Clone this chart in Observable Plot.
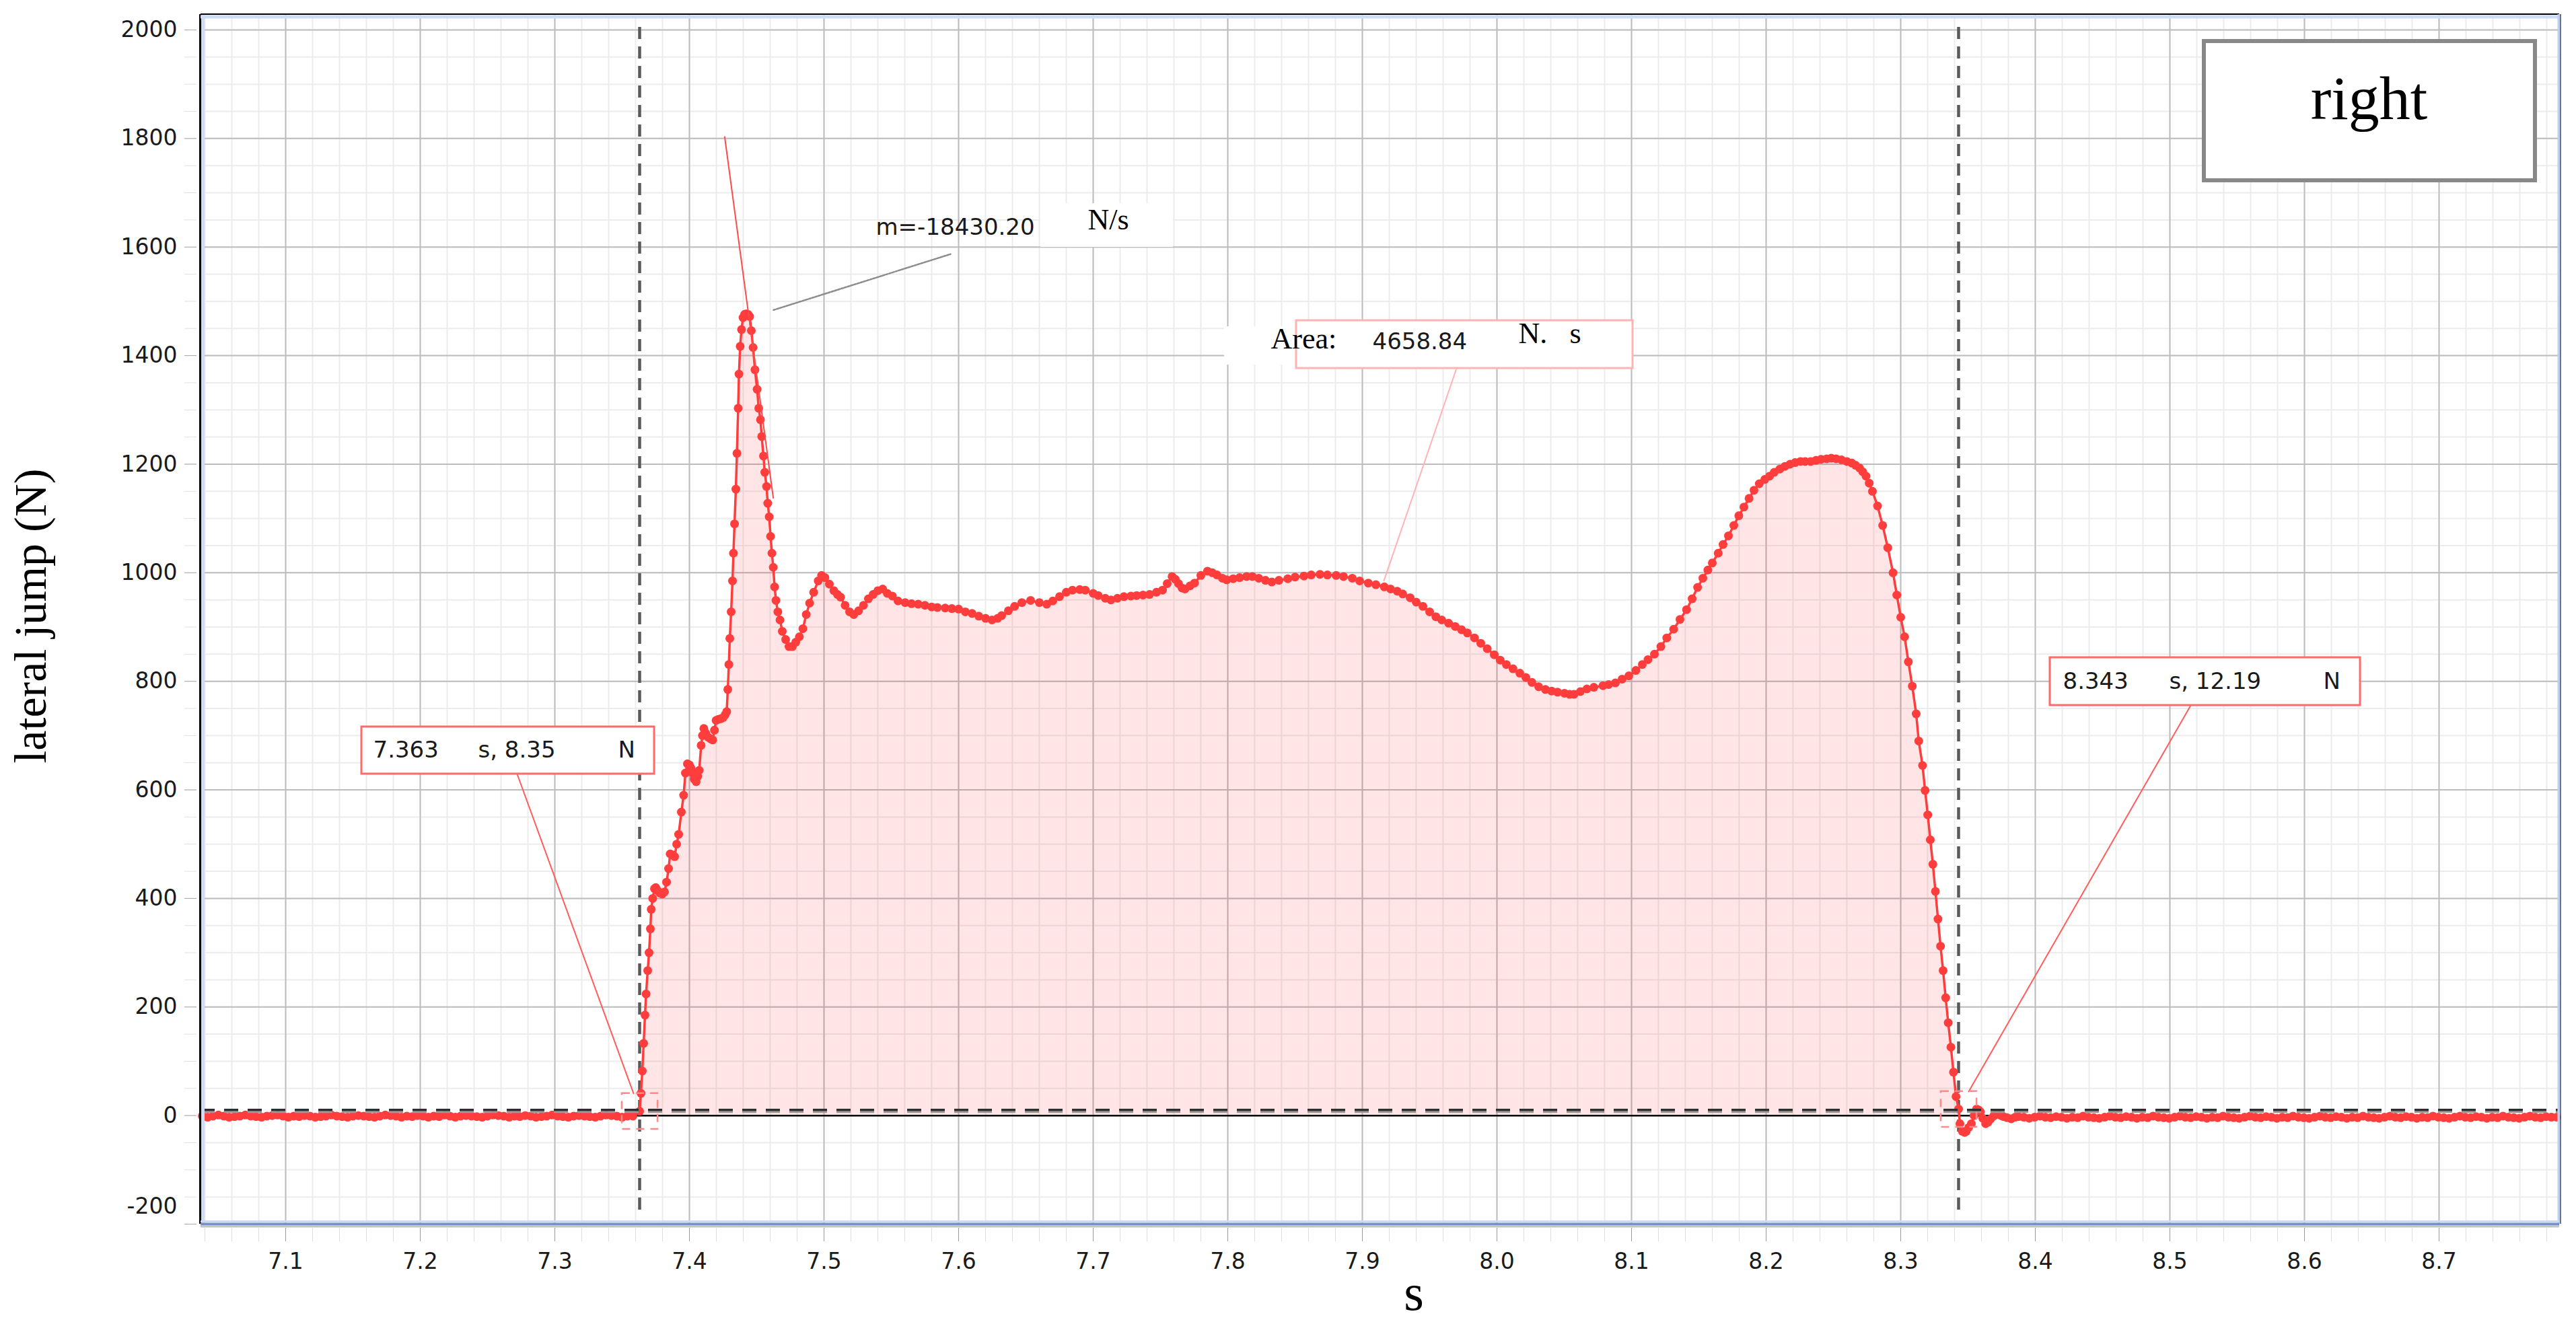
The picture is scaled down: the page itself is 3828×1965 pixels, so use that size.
<!DOCTYPE html>
<html>
<head>
<meta charset="utf-8">
<script src="https://cdn.jsdelivr.net/npm/d3@7"></script>
<script src="https://cdn.jsdelivr.net/npm/@observablehq/plot@0.6"></script>
<style>
  html, body { margin: 0; padding: 0; background: #ffffff; }
  #chart svg { display: block; }
</style>
</head>
<body>
<div id="chart"></div>
<script>
// ---------------- DATA ----------------
const xDomain = [7.037, 8.7895];
const yDomain = [-200, 2028.5];
const xTickValues = [7.1, 7.2, 7.3, 7.4, 7.5, 7.6, 7.7, 7.8, 7.9, 8.0, 8.1, 8.2, 8.3, 8.4, 8.5, 8.6, 8.7];
const yTickValues = [-200, 0, 200, 400, 600, 800, 1000, 1200, 1400, 1600, 1800, 2000];

// quiet stance before take-off (sampled every 4 ms)
const preStart = 7.038, preStep = 0.004;
const preForce = [-1,-3,-1,1,-1,-3,-2,-1,1,-1,-2,-3,-1,0,1,-1,-3,-1,-2,0,
                  -1,-3,-2,-1,1,-1,-2,-3,-1,0,-1,-2,-3,-1,1,0,-1,-3,-1,-2,
                  0,-1,-3,-1,-2,1,-1,-3,-1,0,-1,-2,-3,-1,1,0,-1,-3,-1,-2,
                  0,-1,-3,-2,-1,1,-1,-2,-3,-1,0,-1,-2,-3,-1,1,0,-1,-3,-1,-1];

// contact phase
const activeTime = [
  7.3630,7.3640,7.3650,7.3660,7.3670,7.3678,7.3690,7.3700,7.3710,7.3716,
  7.3727,7.3740,7.3750,7.3765,7.3780,7.3798,7.3815,7.3830,7.3845,7.3857,
  7.3875,7.3890,7.3905,7.3920,7.3940,7.3957,7.3970,7.3985,7.4000,7.4012,
  7.4023,7.4035,7.4050,7.4062,7.4073,7.4087,7.4097,7.4107,7.4120,7.4140,
  7.4157,7.4173,7.4186,7.4198,7.4215,7.4233,7.4250,7.4265,7.4277,7.4285,
  7.4293,7.4300,7.4310,7.4320,7.4327,7.4335,7.4345,7.4353,7.4362,7.4368,
  7.4377,7.4387,7.4398,7.4410,7.4423,7.4436,7.4448,7.4460,7.4473,7.4487,
  7.4503,7.4515,7.4528,7.4537,7.4550,7.4560,7.4573,7.4582,7.4593,7.4603,
  7.4613,7.4623,7.4633,7.4643,7.4657,7.4673,7.4690,7.4715,7.4740,7.4765,
  7.4790,7.4817,7.4843,7.4868,7.4893,7.4923,7.4957,7.4982,7.5007,7.5040,
  7.5073,7.5100,7.5123,7.5157,7.5190,7.5221,7.5257,7.5293,7.5330,7.5365,
  7.5400,7.5436,7.5470,7.5508,7.5550,7.5603,7.5650,7.5700,7.5750,7.5800,
  7.5842,7.5900,7.5950,7.6000,7.6050,7.6100,7.6150,7.6200,7.6248,7.6290,
  7.6320,7.6370,7.6416,7.6470,7.6535,7.6600,7.6655,7.6700,7.6750,7.6800,
  7.6846,7.6900,7.6941,7.7000,7.7037,7.7090,7.7132,7.7180,7.7228,7.7280,
  7.7323,7.7370,7.7419,7.7470,7.7515,7.7550,7.7586,7.7610,7.7634,7.7660,
  7.7682,7.7720,7.7753,7.7800,7.7849,7.7885,7.7920,7.7960,7.7992,7.8040,
  7.8088,7.8140,7.8183,7.8230,7.8280,7.8327,7.8380,7.8446,7.8500,7.8566,
  7.8620,7.8685,7.8740,7.8805,7.8860,7.8925,7.8980,7.9044,7.9100,7.9163,
  7.9210,7.9259,7.9300,7.9355,7.9400,7.9450,7.9500,7.9546,7.9590,7.9641,
  7.9690,7.9737,7.9780,7.9833,7.9880,7.9928,7.9980,8.0024,8.0070,8.0119,
  8.0170,8.0215,8.0260,8.0310,8.0360,8.0406,8.0450,8.0501,8.0540,8.0573,
  8.0620,8.0668,8.0720,8.0788,8.0830,8.0880,8.0930,8.0980,8.1032,8.1080,
  8.1122,8.1170,8.1218,8.1262,8.1313,8.1360,8.1409,8.1450,8.1491,8.1530,
  8.1567,8.1600,8.1644,8.1680,8.1720,8.1760,8.1797,8.1835,8.1873,8.1910,
  8.1949,8.1990,8.2026,8.2060,8.2102,8.2140,8.2178,8.2215,8.2255,8.2290,
  8.2331,8.2370,8.2408,8.2450,8.2484,8.2520,8.2560,8.2600,8.2637,8.2665,
  8.2694,8.2718,8.2742,8.2766,8.2790,8.2828,8.2866,8.2904,8.2943,8.2971,
  8.3000,8.3029,8.3057,8.3086,8.3115,8.3134,8.3162,8.3181,8.3201,8.3220,
  8.3239,8.3258,8.3277,8.3296,8.3315,8.3334,8.3353,8.3373,8.3392,8.3411,
  8.3430,8.3440,8.3458,8.3475,8.3487,8.3505,8.3525,8.3545,8.3564,8.3580,
  8.3592,8.3610,8.3631,8.3650,8.3669,8.3690,8.3710,8.3726,8.3745,8.3764,
  8.3790,8.3821,8.3850,8.3875
];
const activeForce = [
  8,41,82,133,185,224,267,300,344,380,
  400,418,420,414,410,408,412,430,455,482,
  480,477,500,518,559,590,631,648,646,640,
  631,620,615,625,636,682,700,713,705,697,
  694,692,710,728,730,731,733,738,744,785,
  831,879,928,985,1036,1090,1154,1220,1303,1366,
  1417,1448,1470,1476,1477,1476,1472,1446,1415,1374,
  1338,1303,1282,1251,1215,1185,1159,1128,1103,1067,
  1036,1010,974,949,928,913,892,877,864,864,
  872,882,897,923,944,964,985,995,991,979,
  967,960,955,940,928,923,930,940,952,960,
  967,970,962,957,948,945,943,942,940,937,
  936,935,934,933,928,925,920,916,913,916,
  921,930,938,945,949,945,942,948,956,964,
  968,969,968,962,958,953,950,953,956,957,
  958,959,960,964,968,980,993,988,980,972,
  970,976,981,995,1003,1000,996,990,987,989,
  991,993,993,990,986,983,986,989,992,994,
  996,997,996,995,993,990,985,981,978,974,
  970,966,961,954,946,938,928,919,913,907,
  901,895,889,880,870,860,849,839,831,823,
  815,807,798,790,785,782,780,778,776,776,
  781,786,789,792,794,797,804,810,820,831,
  840,850,864,880,896,914,932,952,973,990,
  1005,1018,1036,1052,1068,1087,1105,1121,1137,1152,
  1164,1172,1178,1185,1191,1196,1200,1203,1205,1205,
  1205,1207,1209,1210,1211,1210,1208,1205,1202,1198,
  1193,1186,1178,1165,1150,1123,1087,1046,1000,959,
  918,882,836,791,740,690,645,599,554,508,
  463,413,362,312,267,217,171,126,80,35,
  12,-15,-29,-31,-29,-22,-15,0,12,10,
  7,-5,-15,-12,-6,-1,2,3,0,-2,
  -4,-6,-3,-2
];

// after landing / flight (sampled every 4 ms)
const postStart = 8.3915, postStep = 0.004;
const postForce = [-3,-5,-3,-1,-3,-4,-2,-3,-5,-3,-4,-1,-3,-4,-5,-3,-1,-3,-4,-2,
                   -3,-5,-3,-4,-1,-3,-4,-5,-3,-1,-3,-4,-2,-3,-5,-3,-4,-1,-3,-4,
                   -5,-3,-1,-3,-4,-2,-3,-5,-3,-4,-1,-3,-4,-5,-3,-1,-3,-4,-2,-3,
                   -5,-3,-4,-1,-3,-4,-5,-3,-1,-3,-4,-2,-3,-5,-3,-4,-1,-3,-4,-5,
                   -3,-1,-3,-4,-2,-3,-5,-3,-4,-1,-3,-4,-5,-3,-1,-3,-4,-2,-3,-3];

// analysis results
const eventTime = [7.363, 8.343];
const eventForce = [8.35, 12.19];
const slopeValue = -18430.20;     // N/s
const slopeAnchor = [7.4262, 1803];
const slopeEndTime = 7.4623;
const impulseArea = 4658.84;      // N·s
const thresholdForce = 9;
const legendLabel = "right";

// ---------------- BUILD ROWS ----------------
const preRows = preForce.map((f, i) => ({t: preStart + i * preStep, f}));
const activeRows = activeTime.map((t, i) => ({t, f: activeForce[i]}));
const postRows = postForce.map((f, i) => ({t: postStart + i * postStep, f}));
const allRows = [...preRows, ...activeRows, ...postRows];
const fillRows = activeRows.filter(d => d.t >= eventTime[0] && d.t <= eventTime[1]);
const tangentRows = [
  {t: slopeAnchor[0], f: slopeAnchor[1]},
  {t: slopeEndTime, f: slopeAnchor[1] + slopeValue * (slopeEndTime - slopeAnchor[0])}
];
const eventRows = eventTime.map((t, i) => ({t, f: eventForce[i]}));

const minorX = d3.range(352, 440).map(i => +(i * 0.02).toFixed(2));
const minorY = d3.range(-200, 2001, 50);

// ---------------- LAYOUT (annotation placement in data units) ----------------
const boxes = [
  {x1: 7.1565, x2: 7.374, y1: 629.2, y2: 716, stroke: "#ff6b6b"},
  {x1: 8.411, x2: 8.6415, y1: 755.6, y2: 843.6, stroke: "#ff6b6b"},
  {x1: 7.851, x2: 8.101, y1: 1376.5, y2: 1464.5, stroke: "#ffb3b3"}
];
const whitePatches = [
  {x1: 7.661, x2: 7.7595, y1: 1599.7, y2: 1680.2},
  {x1: 7.7975, x2: 7.851, y1: 1382.7, y2: 1453.4}
];
const legendBox = [{x1: 8.5255, x2: 8.7715, y1: 1722.4, y2: 1978.9}];
const leaderRed = [
  [{t: 7.272, f: 629.2}, {t: 7.3585, f: 40.5}],
  [{t: 8.5155, f: 755.6}, {t: 8.3505, f: 44.2}]
];
const leaderArea = [{t: 7.970, f: 1376.5}, {t: 7.916, f: 985}];
const leaderSlope = [{t: 7.4625, f: 1484}, {t: 7.594, f: 1587}];

const sansTexts = [
  {t: 7.165, f: 672.5, s: eventTime[0].toFixed(3)},
  {t: 7.243, f: 672.5, s: "s, " + eventForce[0].toFixed(2)},
  {t: 7.347, f: 672.5, s: "N"},
  {t: 8.4205, f: 799.6, s: eventTime[1].toFixed(3)},
  {t: 8.4995, f: 799.6, s: "s, " + eventForce[1].toFixed(2)},
  {t: 8.614, f: 799.6, s: "N"},
  {t: 7.5385, f: 1635.6, s: "m=" + slopeValue.toFixed(2)},
  {t: 7.9075, f: 1425, s: impulseArea.toFixed(2)}
];
const serifTexts = [
  {t: 7.696, f: 1650.5, s: "N/s"},
  {t: 7.832, f: 1431, s: "Area:"},
  {t: 8.016, f: 1440, s: "N."},
  {t: 8.054, f: 1440, s: "s"}
];

const RED = "#ff3d3d";
const SERIF = "'Liberation Serif', 'DejaVu Serif', serif";

const chart = Plot.plot({
  width: 3828,
  height: 1965,
  marginLeft: 298,
  marginRight: 25,
  marginTop: 21,
  marginBottom: 146,
  x: {domain: xDomain},
  y: {domain: yDomain},
  style: {fontFamily: "'DejaVu Sans', sans-serif", fontSize: "33px", background: "#ffffff", color: "#1a1a1a"},
  marks: [
    // grids
    Plot.gridX(minorX, {stroke: "#ececec", strokeOpacity: 1, strokeWidth: 2}),
    Plot.gridY(minorY, {stroke: "#ececec", strokeOpacity: 1, strokeWidth: 2}),
    Plot.gridX(xTickValues, {stroke: "#bdbdbd", strokeOpacity: 1, strokeWidth: 2}),
    Plot.gridY(yTickValues, {stroke: "#bdbdbd", strokeOpacity: 1, strokeWidth: 2}),

    // impulse area
    Plot.areaY(fillRows, {x: "t", y: "f", fill: "#ff0000", fillOpacity: 0.1}),

    // event markers
    Plot.ruleX(eventTime, {stroke: "#5a5a5a", strokeWidth: 4.5, strokeDasharray: "18,11", insetTop: 19, insetBottom: 15}),
    Plot.ruleY([0], {stroke: "#000000", strokeWidth: 2.5}),

    // force trace
    Plot.line(allRows, {x: "t", y: "f", stroke: RED, strokeWidth: 3.5}),
    Plot.dot(allRows, {x: "t", y: "f", r: 6.5, fill: RED}),

    // threshold
    Plot.ruleY([thresholdForce], {stroke: "#9a9a9a", strokeWidth: 3, strokeDasharray: "21,14", dy: 2}),
    Plot.ruleY([thresholdForce], {stroke: "#2e2e2e", strokeWidth: 3.5, strokeDasharray: "21,14", dy: -1}),

    // slope tangent
    Plot.line(tangentRows, {x: "t", y: "f", stroke: "#ff4a4a", strokeWidth: 2}),

    // leaders
    ...leaderRed.map(seg => Plot.line(seg, {x: "t", y: "f", stroke: "#ff5c5c", strokeWidth: 2})),
    Plot.line(leaderArea, {x: "t", y: "f", stroke: "#ffb3b3", strokeWidth: 2}),
    Plot.line(leaderSlope, {x: "t", y: "f", stroke: "#8c8c8c", strokeWidth: 2.5, strokeDasharray: "3,2"}),

    // marker squares
    Plot.dot(eventRows, {x: "t", y: "f", symbol: "square", r: 30, fill: "none", stroke: "#ff8a8a", strokeWidth: 2.5, strokeDasharray: "12,9"}),

    // boxes
    Plot.rect(whitePatches, {x1: "x1", x2: "x2", y1: "y1", y2: "y2", fill: "#ffffff"}),
    Plot.rect(boxes, {x1: "x1", x2: "x2", y1: "y1", y2: "y2", fill: "#ffffff", stroke: "stroke", strokeWidth: 3}),
    Plot.rect(legendBox, {x1: "x1", x2: "x2", y1: "y1", y2: "y2", fill: "#ffffff", stroke: "#888888", strokeWidth: 6}),

    // annotation texts
    Plot.text(sansTexts, {x: "t", y: "f", text: "s", textAnchor: "start", fontSize: 34, fill: "#1a1a1a"}),
    Plot.text(serifTexts, {x: "t", y: "f", text: "s", textAnchor: "start", fontSize: 44, fontFamily: SERIF, fill: "#000000"}),
    Plot.text([legendLabel], {x: 8.648, y: 1872, text: d => d, textAnchor: "middle", fontSize: 92, fontFamily: SERIF, fill: "#000000"}),

    // axes
    Plot.axisX({ticks: minorX, tickSize: 20, dy: 6, stroke: "#dddddd", tickFormat: () => "", label: null}),
    Plot.axisX({ticks: xTickValues, tickSize: 20, dy: 6, tickPadding: 17, stroke: "#9a9a9a", fill: "#1a1a1a", fontSize: 33, tickFormat: d3.format(".1f"), label: null}),
    Plot.axisY({ticks: minorY, tickSize: 18, dx: -6, stroke: "#e0e0e0", tickFormat: () => "", label: null}),
    Plot.axisY({ticks: yTickValues, tickSize: 18, dx: -6, tickPadding: 11, stroke: "#a8a8a8", fill: "#1a1a1a", fontSize: 33, tickFormat: d => d === -200 ? "" : String(d), label: null}),
    Plot.text([-200], {y: d => d, frameAnchor: "left", dx: -35, dy: -26, textAnchor: "end", text: d => String(d), fontSize: 33, fill: "#1a1a1a"}),

    // axis titles
    Plot.text(["lateral jump (N)"], {frameAnchor: "left", dx: -252, dy: -5, rotate: -90, textAnchor: "middle", lineAnchor: "middle", text: d => d, fontSize: 68, fontFamily: SERIF, fill: "#000000"}),
    Plot.text(["s"], {frameAnchor: "bottom", dx: 50, dy: 103, textAnchor: "middle", lineAnchor: "middle", text: d => d, fontSize: 76, fontFamily: SERIF, fill: "#000000"}),

    // frame
    Plot.ruleX([xDomain[0]], {stroke: "#cfdcf5", strokeWidth: 5, dx: 3}),
    Plot.ruleX([xDomain[0]], {stroke: "#000000", strokeWidth: 3, dx: -1}),
    Plot.ruleY([yDomain[1]], {stroke: "#cfdcf5", strokeWidth: 5, dy: 3.5}),
    Plot.ruleY([yDomain[1]], {stroke: "#000000", strokeWidth: 2, dy: -0.5}),
    Plot.ruleX([xDomain[1]], {stroke: "#bcd0f2", strokeWidth: 4, dx: -1}),
    Plot.ruleX([xDomain[1]], {stroke: "#3a4a66", strokeWidth: 1.5, dx: 1.5}),
    Plot.ruleY([yDomain[0]], {stroke: "#cddaf4", strokeWidth: 3, dy: -4}),
    Plot.ruleY([yDomain[0]], {stroke: "#7591c8", strokeWidth: 4, dy: 0}),
    Plot.ruleY([yDomain[0]], {stroke: "#c4c4c4", strokeWidth: 3, dy: 3.5})
  ]
});
document.getElementById("chart").appendChild(chart);
</script>
</body>
</html>
